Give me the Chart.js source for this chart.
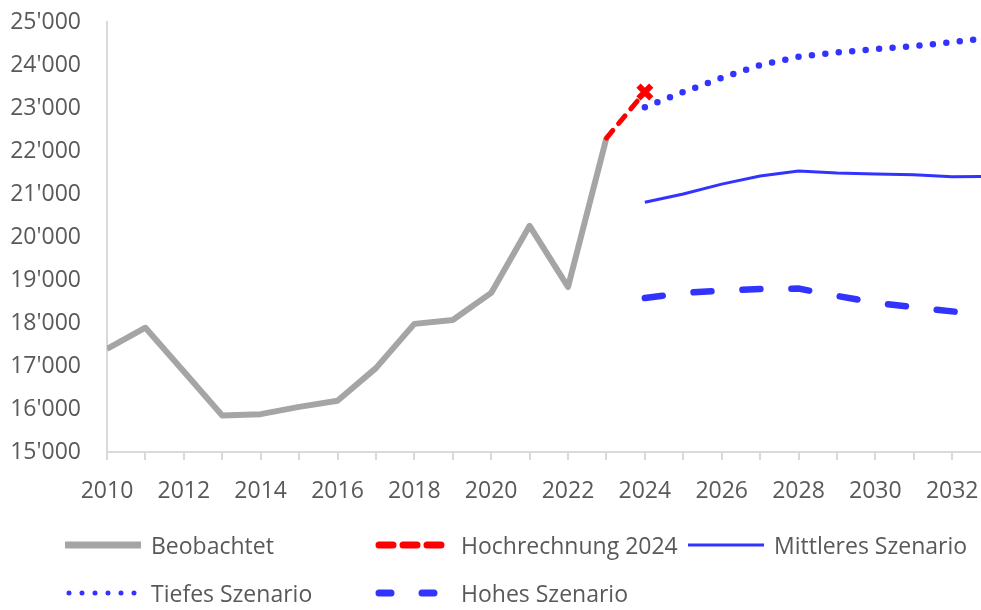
<!DOCTYPE html>
<html>
<head>
<meta charset="utf-8">
<script src="https://cdn.jsdelivr.net/npm/chart.js@4.4.1/dist/chart.umd.min.js"></script>
<style>
  html, body { margin: 0; padding: 0; background: #fff; }
  #wrap { position: relative; width: 981px; height: 610px; overflow: hidden; }
  #chart { position: absolute; left: 0; top: 0; }
  .leg { position: absolute; display: flex; align-items: center; font-family: "Open Sans", sans-serif;
         font-size: 23px; color: #595959; white-space: nowrap; height: 30px; }
  .leg svg { margin-right: 10px; }
</style>
</head>
<body>
<div id="wrap">
  <canvas id="chart" width="981" height="610"></canvas>
  <div id="legend"></div>
</div>
<script>
// Daten
const obsYears = [2010, 2011, 2012, 2013, 2014, 2015, 2016, 2017, 2018, 2019, 2020, 2021, 2022, 2023];
const observed = [17400, 17890, 16870, 15850, 15880, 16050, 16190, 16950, 17980, 18070, 18700, 20260, 18840, 22300];

const projYears = [2023, 2024];
const projection = [22300, 23370];

const scenYears = [2024, 2025, 2026, 2027, 2028, 2029, 2030, 2031, 2032, 2033];
const middleScen = [20810, 21000, 21230, 21420, 21535, 21490, 21465, 21450, 21400, 21410];
const lowScen = [23020, 23370, 23700, 24000, 24190, 24290, 24370, 24440, 24530, 24640];
const highScen = [18580, 18700, 18750, 18790, 18800, 18630, 18470, 18370, 18270, 18180];

const yTicks = [15000, 16000, 17000, 18000, 19000, 20000, 21000, 22000, 23000, 24000, 25000];

const FONT = '"Open Sans", sans-serif';
const TEXT = '#595959';
const AXIS = '#D9D9D9';
const BLUE = '#3333FF';

function pts(xs, ys) {
  return xs.map((x, i) => ({ x: x, y: ys[i] }));
}

function fmt(v) {
  return String(v).replace(/\B(?=(\d{3})+(?!\d))/g, "'");
}

const datasets = [
  {
    label: 'Hochrechnung 2024',
    data: pts(projYears, projection),
    borderColor: '#FF0000',
    backgroundColor: '#FF0000',
    borderWidth: 5,
    borderDash: [10, 9],
    borderCapStyle: 'round',
    pointStyle: 'crossRot',
    pointRadius: [0, 9],
    pointBorderWidth: 6,
    pointBorderColor: '#FF0000',
    legendDash: '14 10',
    legendWidth: 7,
    legendSlot: 1
  },
  {
    label: 'Beobachtet',
    data: pts(obsYears, observed),
    borderColor: '#A5A5A5',
    borderWidth: 6,
    borderJoinStyle: 'round',
    pointRadius: 0,
    legendWidth: 7,
    legendSlot: 0
  },
  {
    label: 'Mittleres Szenario',
    data: pts(scenYears, middleScen),
    borderColor: BLUE,
    borderWidth: 3,
    pointRadius: 0,
    legendWidth: 3,
    legendSlot: 2
  },
  {
    label: 'Tiefes Szenario',
    data: pts(scenYears, lowScen),
    borderColor: BLUE,
    borderWidth: 6.5,
    borderDash: [0, 13.5],
    borderCapStyle: 'round',
    pointRadius: 0,
    legendDash: '0 13',
    legendWidth: 5,
    legendSlot: 3
  },
  {
    label: 'Hohes Szenario',
    data: pts(scenYears, highScen),
    borderColor: BLUE,
    borderWidth: 6.5,
    borderDash: [18, 31],
    borderCapStyle: 'round',
    pointRadius: 0,
    legendDash: '12 31',
    legendWidth: 7,
    legendSlot: 4
  }
];

new Chart(document.getElementById('chart'), {
  type: 'line',
  data: { datasets },
  options: {
    responsive: false,
    animation: false,
    layout: { autoPadding: false, padding: { top: 22, right: 0, bottom: 0, left: 0 } },
    plugins: { legend: { display: false }, tooltip: { enabled: false } },
    scales: {
      x: {
        type: 'linear',
        min: 2010,
        max: 2032.75,
        afterFit: s => { s.height = 158; s.paddingRight = 0; s.paddingLeft = 0; },
        border: { display: true, color: AXIS, width: 2 },
        grid: { drawOnChartArea: false, drawTicks: true, tickLength: 8, color: AXIS, lineWidth: 2 },
        ticks: {
          stepSize: 1,
          includeBounds: false,
          autoSkip: false,
          maxRotation: 0,
          padding: 18,
          color: TEXT,
          font: { family: FONT, size: 23 },
          callback: v => (v % 2 === 0 ? String(v) : '')
        }
      },
      y: {
        min: 15000,
        max: 25000,
        afterFit: s => { s.width = 107; s.paddingTop = 0; s.paddingBottom = 0; },
        border: { display: true, color: AXIS, width: 2 },
        grid: { drawOnChartArea: false, drawTicks: false },
        afterBuildTicks: s => { s.ticks = yTicks.map(v => ({ value: v })); },
        ticks: {
          padding: 26,
          color: TEXT,
          font: { family: FONT, size: 23 },
          callback: v => fmt(v)
        }
      }
    }
  }
});

// Legende (HTML, aus den Datasets)
const slots = [
  { left: 65, top: 530 }, { left: 375, top: 530 }, { left: 688, top: 530 },
  { left: 65, top: 578 }, { left: 375, top: 578 }
];
const legend = document.getElementById('legend');
datasets.slice().sort((a, b) => a.legendSlot - b.legendSlot).forEach(ds => {
  const p = slots[ds.legendSlot];
  const div = document.createElement('div');
  div.className = 'leg';
  div.style.left = p.left + 'px';
  div.style.top = p.top + 'px';
  const dash = ds.legendDash ? ` stroke-dasharray="${ds.legendDash}"` : '';
  const cap = ds.borderCapStyle === 'round' ? 'round' : 'butt';
  div.innerHTML = `<svg width="76" height="14"><line x1="${cap === 'round' ? 4 : 0}" y1="7" x2="${cap === 'round' ? 72 : 76}" y2="7"
      stroke="${ds.borderColor}" stroke-width="${ds.legendWidth}" stroke-linecap="${cap}"${dash}/></svg><span></span>`;
  div.querySelector('span').textContent = ds.label;
  legend.appendChild(div);
});
</script>
</body>
</html>
